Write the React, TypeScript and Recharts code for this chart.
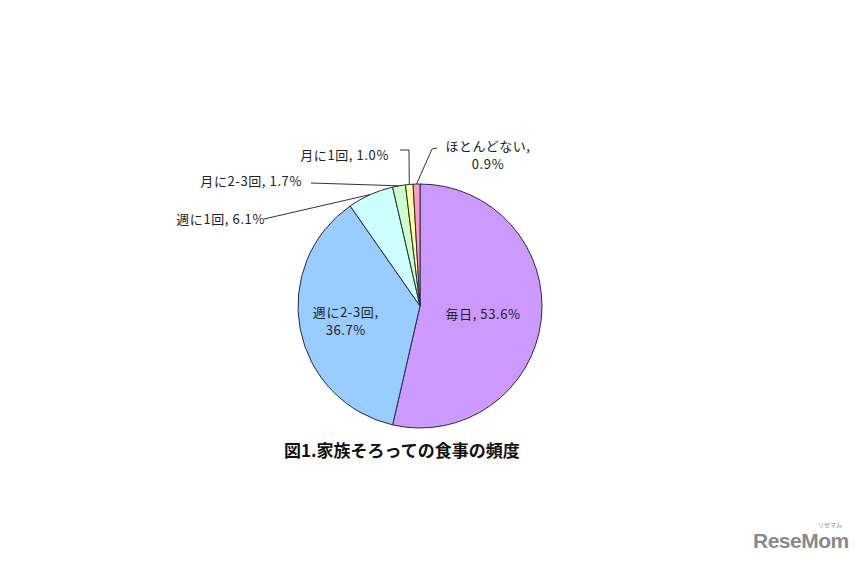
import React from "react";
import { PieChart, Pie, Cell } from "recharts";

const categories = ["毎日", "週に2-3回", "週に1回", "月に2-3回", "月に1回", "ほとんどない"];
const values = [53.6, 36.7, 6.1, 1.7, 1.0, 0.9];
const colors = ["#CC99FF", "#99CCFF", "#CCFFFF", "#CCFFCC", "#FFFF99", "#FF99CC"];
const titleText = "図1.家族そろっての食事の頻度";

const data = categories.map((name, i) => ({ name, value: values[i] }));

type LabelCfg = {
  inside?: boolean;
  r?: number;
  knee?: [number, number];
  end?: [number, number];
  text: [number, number];
  anchor: "start" | "middle" | "end";
  lines: (v: string, n: string) => string[];
};
const labelCfg: LabelCfg[] = [
  { inside: true, r: 0.52, text: [0, 0], anchor: "middle", lines: (n, v) => [`${n}, ${v}%`] },
  { inside: true, r: 0.62, text: [0, 0], anchor: "middle", lines: (n, v) => [`${n},`, `${v}%`] },
  { end: [-156, -87], text: [-155, -88], anchor: "end", lines: (n, v) => [`${n}, ${v}%`] },
  { end: [-109, -123], text: [-118, -126], anchor: "end", lines: (n, v) => [`${n}, ${v}%`] },
  { knee: [-11, -156], end: [-20, -156], text: [-31, -152], anchor: "end", lines: (n, v) => [`${n}, ${v}%`] },
  { knee: [12, -157], end: [17, -158], text: [68, -161], anchor: "middle", lines: (n, v) => [`${n},`, `${v}%`] },
];

const RAD = Math.PI / 180;
const FONT = "'Noto Sans CJK JP', sans-serif";
const LABEL_SIZE = 13;
const LABEL_SPACING = 0.6;

const renderLabel = (props: any) => {
  const { cx, cy, midAngle, outerRadius, index, name, value } = props;
  const cfg = labelCfg[index];
  const cos = Math.cos(-midAngle * RAD);
  const sin = Math.sin(-midAngle * RAD);
  const lines = cfg.lines(name, value.toFixed(1));
  const lh = 18;
  if (cfg.inside) {
    const x = cx + outerRadius * (cfg.r as number) * cos;
    const y = cy + outerRadius * (cfg.r as number) * sin;
    const y0 = y - ((lines.length - 1) * lh) / 2;
    return (
      <text x={x} y={y0} textAnchor="middle" dominantBaseline="central" fontFamily={FONT} fontSize={LABEL_SIZE} letterSpacing={LABEL_SPACING} fill="#222">
        {lines.map((l, i) => (
          <tspan key={i} x={x} y={y0 + i * lh}>{l}</tspan>
        ))}
      </text>
    );
  }
  const ex = cx + outerRadius * cos;
  const ey = cy + outerRadius * sin;
  const pts: string[] = [`${ex},${ey}`];
  if (cfg.knee) pts.push(`${cx + cfg.knee[0]},${cy + cfg.knee[1]}`);
  if (cfg.end) pts.push(`${cx + cfg.end[0]},${cy + cfg.end[1]}`);
  const tx = cx + cfg.text[0];
  const ty = cy + cfg.text[1];
  return (
    <g>
      <polyline points={pts.join(" ")} fill="none" stroke="#333" strokeWidth={1} />
      <text x={tx} y={ty} textAnchor={cfg.anchor} dominantBaseline="central" fontFamily={FONT} fontSize={LABEL_SIZE} letterSpacing={LABEL_SPACING} fill="#222">
        {lines.map((l, i) => (
          <tspan key={i} x={tx} y={ty + i * lh}>{l}</tspan>
        ))}
      </text>
    </g>
  );
};

export default function App() {
  return (
    <div style={{ position: "absolute", left: 0, top: 0, width: 864, height: 565, background: "#fff" }}>
      <PieChart width={864} height={565} margin={{ top: 0, right: 0, bottom: 0, left: 0 }}>
        <Pie
          data={data}
          dataKey="value"
          nameKey="name"
          cx={420}
          cy={306}
          outerRadius={122}
          startAngle={90}
          endAngle={-270}
          stroke="#2a2a40"
          strokeWidth={1}
          labelLine={false}
          label={renderLabel}
          isAnimationActive={false}
        >
          {data.map((d, i) => (
            <Cell key={d.name} fill={colors[i]} />
          ))}
        </Pie>
      </PieChart>
      <div
        style={{
          position: "absolute",
          left: 284,
          top: 438,
          fontFamily: FONT,
          fontWeight: 700,
          fontSize: 17,
          color: "#111",
          whiteSpace: "nowrap",
          lineHeight: "24px",
        }}
      >
        {titleText}
      </div>
      <div
        style={{
          position: "absolute",
          left: 753,
          top: 528,
          fontFamily: "'Liberation Sans', Arial, sans-serif",
          fontWeight: 700,
          fontSize: 21,
          color: "#8a8a8a",
          lineHeight: "26px",
          letterSpacing: -0.5,
        }}
      >
        ReseMom
      </div>
      <div
        style={{
          position: "absolute",
          left: 818,
          top: 520,
          fontFamily: FONT,
          fontSize: 6,
          color: "#8a8a8a",
        }}
      >
        リセマム
      </div>
    </div>
  );
}
